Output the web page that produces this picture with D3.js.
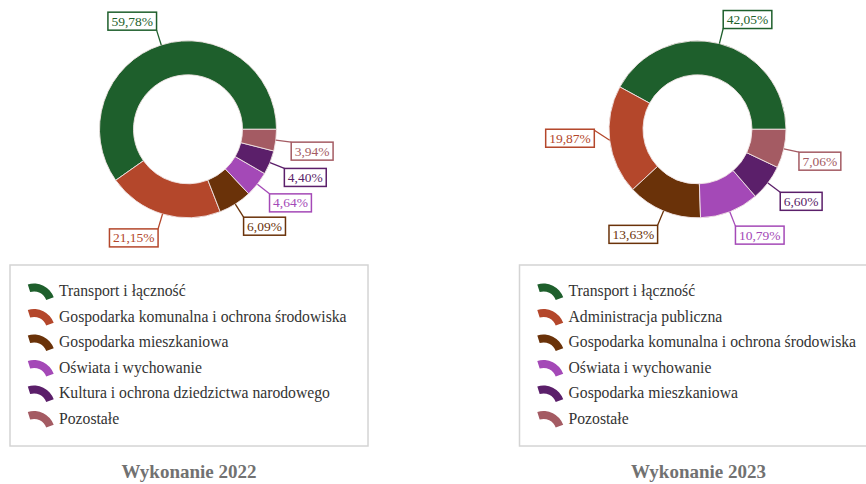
<!DOCTYPE html>
<html>
<head>
<meta charset="utf-8">
<script src="https://cdn.jsdelivr.net/npm/d3@7"></script>
<style>
  html, body { margin: 0; padding: 0; background: #ffffff; }
  svg { display: block; }
</style>
</head>
<body>
<script>
// Struktura wydatków — wykonanie 2022 i 2023 (udział procentowy)
const categories2022 = [
  "Transport i łączność",
  "Gospodarka komunalna i ochrona środowiska",
  "Gospodarka mieszkaniowa",
  "Oświata i wychowanie",
  "Kultura i ochrona dziedzictwa narodowego",
  "Pozostałe"
];
const values2022 = [59.78, 21.15, 6.09, 4.64, 4.40, 3.94];

const categories2023 = [
  "Transport i łączność",
  "Administracja publiczna",
  "Gospodarka komunalna i ochrona środowiska",
  "Oświata i wychowanie",
  "Gospodarka mieszkaniowa",
  "Pozostałe"
];
const values2023 = [42.05, 19.87, 13.63, 10.79, 6.60, 7.06];

const titles = ["Wykonanie 2022", "Wykonanie 2023"];

const sliceColors = ["#1e5f2c", "#b4472b", "#6a3209", "#a449b7", "#5b1f6a", "#a45b63"];

const W = 866, H = 484;
const svg = d3.select("body").append("svg")
  .attr("width", W).attr("height", H)
  .style("font-family", "'Liberation Serif', 'Times New Roman', serif");

svg.append("rect").attr("width", W).attr("height", H).attr("fill", "#ffffff");

const panels = [
  { x0: 0, cats: categories2022, vals: values2022, title: titles[0] },
  { x0: 509.5, cats: categories2023, vals: values2023, title: titles[1] }
];

const outerR = 88.5, innerR = 54.5, labelR = 104;
const fmt = v => v.toFixed(2).replace(".", ",") + "%";

// slices run counter-clockwise from 3 o'clock
const pie = d3.pie().sort(null).value(d => d.v)
  .startAngle(Math.PI / 2).endAngle(Math.PI / 2 - 2 * Math.PI);
const arc = d3.arc().innerRadius(innerR).outerRadius(outerR);

// legend swatch: a short thick ring segment
const iconArc = d3.arc().innerRadius(13).outerRadius(21)
  .startAngle(-0.3).endAngle(1.22);

panels.forEach(p => {
  const g = svg.append("g").attr("transform", `translate(${p.x0},0)`);
  const cx = 188, cy = 129.3;
  const data = p.vals.map((v, i) => ({ v, i, name: p.cats[i] }));
  const arcs = pie(data);

  const donut = g.append("g").attr("transform", `translate(${cx},${cy})`);
  donut.selectAll("path.slice").data(arcs).join("path")
    .attr("class", "slice")
    .attr("d", arc)
    .attr("fill", d => sliceColors[d.data.i])
    .attr("stroke", "#f1e4e4")
    .attr("stroke-width", 0.9);

  // value labels with leader lines
  const labels = donut.selectAll("g.lbl").data(arcs).join("g").attr("class", "lbl");
  labels.each(function (d) {
    const a = (d.startAngle + d.endAngle) / 2;
    const sx = Math.sin(a), sy = -Math.cos(a);
    const col = sliceColors[d.data.i];
    const e = [sx * outerR, sy * outerR];
    const c = [sx * labelR, sy * labelR];
    const sel = d3.select(this);
    const txt = sel.append("text")
      .attr("font-size", 13.5)
      .attr("fill", col)
      .text(fmt(d.data.v));
    const tw = txt.node().getComputedTextLength();
    const bw = tw + 7, bh = 18;
    const bx = sx >= 0 ? c[0] : c[0] - bw;
    let by = sy >= 0 ? c[1] : c[1] - bh;
    // labels on the left near the horizontal sit centred on the leader
    if (sx < 0 && Math.abs(sy) < 0.2) by = c[1] - bh / 2 - 4;
    const attach = [c[0], Math.max(by, Math.min(by + bh, c[1]))];
    if (sx < 0 && Math.abs(sy) < 0.2) attach[1] = by + 1;
    sel.insert("line", "text")
      .attr("x1", e[0]).attr("y1", e[1]).attr("x2", attach[0]).attr("y2", attach[1])
      .attr("stroke", col).attr("stroke-width", 1.3);
    sel.insert("rect", "text")
      .attr("x", bx).attr("y", by).attr("width", bw).attr("height", bh)
      .attr("fill", "#ffffff").attr("stroke", col).attr("stroke-width", 1.5);
    txt.attr("x", bx + bw / 2).attr("y", by + bh / 2 + 4.6).attr("text-anchor", "middle");
  });

  // legend
  g.append("rect")
    .attr("x", 10).attr("y", 265).attr("width", 358).attr("height", 181)
    .attr("fill", "#ffffff").attr("stroke", "#d4d4d4").attr("stroke-width", 1.5);

  const items = g.selectAll("g.item").data(data).join("g").attr("class", "item")
    .attr("transform", d => `translate(0,${290.5 + d.i * 25.5})`);
  items.append("path")
    .attr("d", iconArc)
    .attr("transform", "translate(34,14)")
    .attr("fill", d => sliceColors[d.i]);
  items.append("text")
    .attr("x", 59).attr("y", 5.5)
    .attr("font-size", 15.7)
    .attr("fill", "#333333")
    .text(d => d.name);

  g.append("text")
    .attr("x", 189).attr("y", 478)
    .attr("text-anchor", "middle")
    .attr("font-size", 19).attr("font-weight", "bold")
    .attr("fill", "#717171")
    .text(p.title);
});
</script>
</body>
</html>
